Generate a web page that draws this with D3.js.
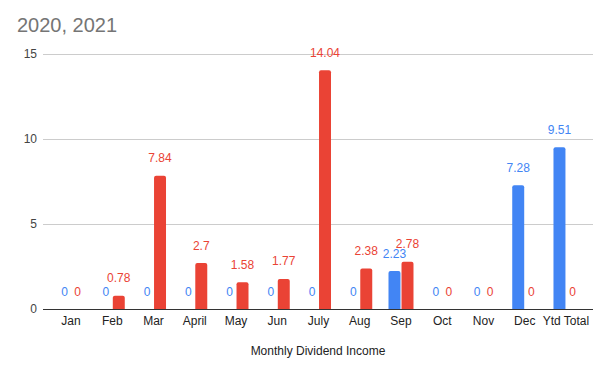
<!DOCTYPE html>
<html><head><meta charset="utf-8">
<script src="https://cdn.jsdelivr.net/npm/d3@7"></script>
<style>body{margin:0;background:#fff}text{font-family:Arial,"Liberation Sans",sans-serif}</style>
</head><body>
<svg id="c" width="607" height="372"></svg>
<script>
const categories = ["Jan","Feb","Mar","April","May","Jun","July","Aug","Sep","Oct","Nov","Dec","Ytd Total"];
const series2020 = [0,0,0,0,0,0,0,0,2.23,0,0,7.28,9.51];
const series2021 = [0,0.78,7.84,2.7,1.58,1.77,14.04,2.38,2.78,0,0,0,0];
const yTicks = [0,5,10,15];
const seriesNames = ["2020","2021"];
const colors = ["#4285F4","#EA4335"];

const svg = d3.select("#c");
const gridLeft = 43, gridRight = 593;
const x = d3.scaleBand().domain(categories).range([50.4, 586.6]);
const y = d3.scaleLinear().domain([0,15]).range([309, 54]);
const inner = d3.scaleBand().domain(seriesNames).range([-12.5, 12.5]).paddingInner(0.08);

svg.append("text").attr("x",17).attr("y",32).attr("font-size",20).attr("fill","#757575").text("2020, 2021");

// grid
svg.append("g").selectAll("line").data(yTicks.filter(d=>d>0)).join("line")
  .attr("x1",gridLeft).attr("x2",gridRight).attr("y1",d=>y(d)).attr("y2",d=>y(d))
  .attr("stroke","#cccccc").attr("stroke-width",1).attr("shape-rendering","crispEdges");
svg.append("g").selectAll("text").data(yTicks).join("text")
  .attr("x",37).attr("y",d=>y(d)+4).attr("text-anchor","end").attr("font-size",12).attr("fill","#444").text(d=>d);

const data = [series2020, series2021];
const r = 2;
data.forEach((vals, si) => {
  const g = svg.append("g");
  vals.forEach((v, i) => {
    const cx = x(categories[i]) + x.bandwidth()/2;
    const x0 = cx + inner(seriesNames[si]);
    const w = inner.bandwidth();
    const top = y(v), base = y(0);
    if (v > 0) {
      const h = base - top;
      const rr = Math.min(r, h);
      g.append("path").attr("fill", colors[si])
        .attr("d", `M${x0},${base}V${top+rr}Q${x0},${top} ${x0+rr},${top}H${x0+w-rr}Q${x0+w},${top} ${x0+w},${top+rr}V${base}Z`);
    }
    g.append("text").attr("x", x0 + w/2).attr("y", top - 13.5)
      .attr("text-anchor","middle").attr("font-size",12).attr("fill", colors[si]).text(v);
  });
});

// baseline
svg.append("line").attr("x1",gridLeft).attr("x2",gridRight).attr("y1",y(0)).attr("y2",y(0))
  .attr("stroke","#333").attr("stroke-width",1).attr("shape-rendering","crispEdges");

// x axis labels
svg.append("g").selectAll("text").data(categories).join("text")
  .attr("x",d=>x(d)+x.bandwidth()/2).attr("y",325).attr("text-anchor","middle")
  .attr("font-size",12).attr("fill","#222").text(d=>d);

svg.append("text").attr("x",318).attr("y",355).attr("text-anchor","middle").attr("font-size",12).attr("fill","#222").text("Monthly Dividend Income");
</script>
</body></html>
